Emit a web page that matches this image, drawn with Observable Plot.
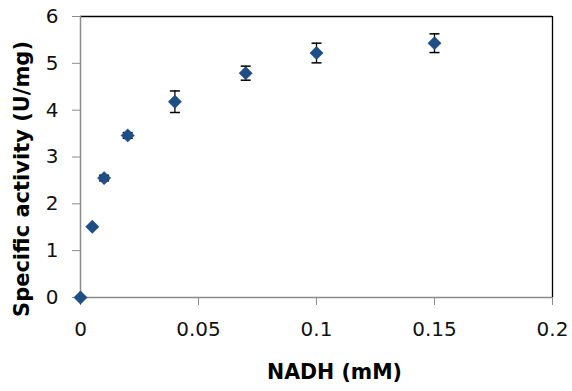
<!DOCTYPE html>
<html>
<head>
<meta charset="utf-8">
<script src="https://cdn.jsdelivr.net/npm/d3@7"></script>
<script src="https://cdn.jsdelivr.net/npm/@observablehq/plot@0.6"></script>
<style>
  html, body { margin: 0; padding: 0; background: #fff; }
</style>
</head>
<body>
<div id="chart"></div>
<script>
const nadh = [0, 0.005, 0.01, 0.02, 0.04, 0.07, 0.1, 0.15];
const activity = [0, 1.51, 2.55, 3.46, 4.18, 4.79, 5.22, 5.43];
const errors = [0, 0.02, 0.06, 0.06, 0.23, 0.15, 0.21, 0.2];
const xTicks = [0, 0.05, 0.1, 0.15, 0.2];
const xTickLabels = ["0", "0.05", "0.1", "0.15", "0.2"];
const yTicks = [0, 1, 2, 3, 4, 5, 6];
const xTitle = "NADH (mM)";
const yTitle = "Specific activity (U/mg)";

const data = nadh.map((x, i) => ({x, y: activity[i], lo: activity[i] - errors[i], hi: activity[i] + errors[i]}));
const withErr = data.filter(d => d.hi - d.lo > 0);

const cap = {draw(ctx) { ctx.moveTo(-5, 0); ctx.lineTo(5, 0); }};

const font = "'DejaVu Sans', sans-serif";
const axisGray = "#8c8c8c";

const chart = Plot.plot({
  width: 572,
  height: 391,
  marginLeft: 80,
  marginRight: 20,
  marginTop: 16,
  marginBottom: 94,
  style: {fontFamily: font, fontSize: "20px", color: "#000", background: "#fff"},
  x: {domain: [0, 0.2]},
  y: {domain: [0, 6]},
  marks: [
    Plot.ruleY([6], {stroke: "#000", strokeWidth: 1.3}),
    Plot.ruleX([0.2], {stroke: "#000", strokeWidth: 1.3}),
    Plot.ruleX([0], {stroke: axisGray, strokeWidth: 1.5}),
    Plot.ruleY([0], {stroke: axisGray, strokeWidth: 1.5}),
    Plot.axisY({ticks: yTicks, tickSize: 8, tickPadding: 14, stroke: axisGray, strokeOpacity: 1, fill: "#111", fontSize: 20, label: null, tickFormat: d => String(d)}),
    Plot.axisX({ticks: xTicks, tickSize: 8, tickPadding: 16, stroke: axisGray, strokeOpacity: 1, fill: "#111", fontSize: 20, label: null, tickFormat: (d, i) => xTickLabels[i]}),
    Plot.ruleX(withErr, {x: "x", y1: "lo", y2: "hi", stroke: "#000", strokeWidth: 1.3}),
    Plot.dot(withErr, {x: "x", y: "hi", symbol: cap, r: 5, stroke: "#000", strokeWidth: 1.5, fill: "none"}),
    Plot.dot(withErr, {x: "x", y: "lo", symbol: cap, r: 5, stroke: "#000", strokeWidth: 1.5, fill: "none"}),
    Plot.dot(data, {x: "x", y: "y", symbol: "diamond2", r: 6, fill: "#1f4e86", stroke: "#1f4e86", strokeWidth: 0.5}),
    Plot.text([xTitle], {frameAnchor: "bottom", dy: 81, dx: 18, fontSize: 20.5, fontWeight: "bold", fill: "#000"}),
    Plot.text([yTitle], {frameAnchor: "left", textAnchor: "middle", dx: -58, dy: 22, rotate: -90, fontSize: 21, fontWeight: "bold", fill: "#000"})
  ]
});
document.getElementById("chart").appendChild(chart);
</script>
</body>
</html>
